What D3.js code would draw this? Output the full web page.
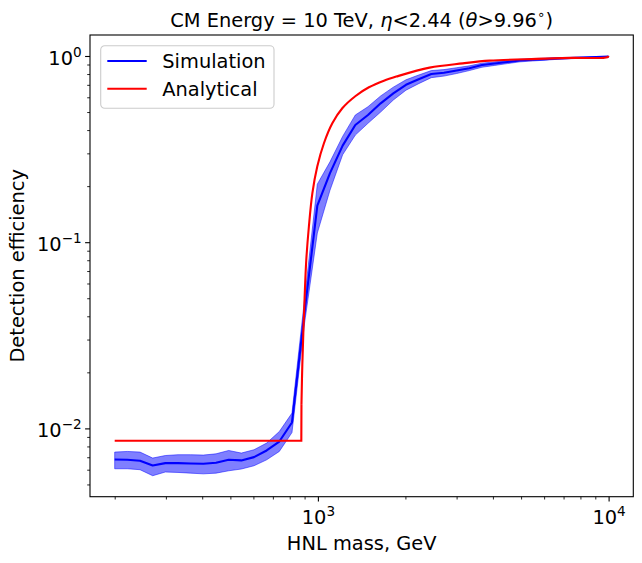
<!DOCTYPE html>
<html>
<head>
<meta charset="utf-8">
<script src="https://cdn.jsdelivr.net/npm/d3@7"></script>
<style>
  body { margin: 0; background: #fff; }
  text { font-family: "DejaVu Sans", sans-serif; fill: #000; }
</style>
</head>
<body>
<div id="chart"></div>
<script>
(function () {
  // simulated HNL masses (GeV) and efficiencies
  const massSim = [200, 221.1, 244.4, 270.2, 298.7, 330.2, 365.0, 403.6, 446.2, 493.3,
    545.3, 602.8, 666.4, 736.7, 814.4, 900.4, 995.5, 1100.5, 1216.6, 1345.0,
    1486.9, 1643.8, 1817.3, 2009.0, 2221.0, 2455.4, 2714.5, 3000.9, 3317.6, 3667.7,
    4054.7, 4482.6, 4955.6, 5478.6, 6056.8, 6696.0, 7402.6, 8183.7, 9047.1, 10000];
  const effSim = [0.00681, 0.00678, 0.0067, 0.00632, 0.00651, 0.00651, 0.00648, 0.00646, 0.00654, 0.00678,
    0.00673, 0.00701, 0.00761, 0.0085, 0.01076, 0.0425, 0.157, 0.235, 0.33, 0.426,
    0.482, 0.557, 0.63, 0.70, 0.75, 0.80, 0.812, 0.835, 0.86, 0.895,
    0.912, 0.928, 0.945, 0.955, 0.962, 0.97, 0.976, 0.981, 0.986, 0.992];
  const effSimLow = [0.00607, 0.00607, 0.006, 0.00557, 0.00583, 0.0058, 0.00575, 0.0057, 0.00575, 0.00592,
    0.00605, 0.0063, 0.00678, 0.00752, 0.0095, 0.037, 0.112, 0.19, 0.295, 0.376,
    0.435, 0.50, 0.58, 0.655, 0.71, 0.765, 0.78, 0.805, 0.835, 0.87,
    0.89, 0.91, 0.93, 0.94, 0.95, 0.96, 0.967, 0.973, 0.98, 0.988];
  const effSimHigh = [0.00746, 0.00752, 0.00746, 0.00693, 0.00715, 0.00722, 0.00722, 0.00719, 0.0073, 0.00761,
    0.00737, 0.00768, 0.00834, 0.00962, 0.01208, 0.05, 0.205, 0.27, 0.37, 0.482,
    0.534, 0.61, 0.68, 0.745, 0.79, 0.835, 0.845, 0.865, 0.885, 0.915,
    0.93, 0.945, 0.96, 0.968, 0.973, 0.98, 0.984, 0.988, 0.991, 0.995];

  // analytical curve (flat below the 877 GeV threshold, then rising)
  const massAna = [200, 877, 878, 884, 900, 912, 931, 957, 995, 1049, 1121, 1213, 1348,
    1498, 1687, 1860, 2422, 3152, 3894, 5636, 7500, 9900, 10000];
  const effAna = [0.00858, 0.00858, 0.0135, 0.022, 0.05, 0.08, 0.121, 0.183, 0.255, 0.34, 0.435, 0.524, 0.61,
    0.679, 0.737, 0.775, 0.866, 0.913, 0.944, 0.965, 0.977, 0.984, 1.0];

  const xMajor = [1000, 10000];
  const xMinor = [200, 300, 400, 500, 600, 700, 800, 900, 2000, 3000, 4000, 5000, 6000, 7000, 8000, 9000];
  const yMajor = [0.01, 0.1, 1];
  const yMinor = [0.005, 0.006, 0.007, 0.008, 0.009, 0.02, 0.03, 0.04, 0.05, 0.06, 0.07, 0.08, 0.09,
    0.2, 0.3, 0.4, 0.5, 0.6, 0.7, 0.8, 0.9];

  const W = 642, H = 563;
  const margin = { top: 35, right: 8.7, bottom: 66.3, left: 90 };
  const width = W - margin.left - margin.right;
  const height = H - margin.top - margin.bottom;
  const FS = 19.4;

  const svg = d3.select("#chart").append("svg")
    .attr("width", W).attr("height", H);
  const g = svg.append("g")
    .attr("transform", `translate(${margin.left}, ${margin.top})`);

  // log-space padding of 5% like matplotlib autoscale
  function padLog(lo, hi) {
    const a = Math.log10(lo), b = Math.log10(hi), p = 0.05 * (b - a);
    return [Math.pow(10, a - p), Math.pow(10, b + p)];
  }
  const xScale = d3.scaleLog()
    .domain(padLog(d3.min(massSim), d3.max(massSim)))
    .range([0, width]);
  const yScale = d3.scaleLog()
    .domain(padLog(d3.min(effSimLow), Math.max(d3.max(effSimHigh), d3.max(effAna))))
    .range([height, 0]);

  const simData = massSim.map((m, i) => ({ m, v: effSim[i], lo: effSimLow[i], hi: effSimHigh[i] }));
  const anaData = massAna.map((m, i) => ({ m, v: effAna[i] }));

  // band
  g.append("path")
    .datum(simData)
    .attr("d", d3.area()
      .x((d) => xScale(d.m))
      .y0((d) => yScale(d.lo))
      .y1((d) => yScale(d.hi)))
    .style("fill", "#0000ff")
    .style("fill-opacity", 0.5)
    .style("stroke", "#0000ff")
    .style("stroke-opacity", 0.5)
    .style("stroke-width", 1);

  g.append("path")
    .datum(simData)
    .attr("d", d3.line().x((d) => xScale(d.m)).y((d) => yScale(d.v)))
    .style("fill", "none")
    .style("stroke", "#0000ff")
    .style("stroke-width", 2.1)
    .style("stroke-linejoin", "round");

  // analytical: straight flat part + step, smooth rise after the threshold
  const anaFlat = anaData.slice(0, 3);
  const anaRise = anaData.slice(2);
  g.append("path")
    .datum(anaFlat)
    .attr("d", d3.line().x((d) => xScale(d.m)).y((d) => yScale(d.v)))
    .style("fill", "none")
    .style("stroke", "#ff0000")
    .style("stroke-width", 2.1);
  g.append("path")
    .datum(anaRise)
    .attr("d", d3.line()
      .x((d) => xScale(d.m))
      .y((d) => yScale(d.v))
      .curve(d3.curveCatmullRom.alpha(0.5)))
    .style("fill", "none")
    .style("stroke", "#ff0000")
    .style("stroke-width", 2.1);

  // axes
  function styleAxis(sel, w) {
    sel.select(".domain").remove();
    sel.selectAll(".tick line").style("stroke", "#000").style("stroke-width", w);
  }
  function supLabel(sel, base, exp) {
    sel.text(null);
    sel.append("tspan").text(base);
    sel.append("tspan").attr("dy", -8).style("font-size", "13.6px").text(exp);
  }
  const expText = (v) => String(Math.round(Math.log10(v))).replace("-", "\u2212");

  const xAxisMinor = g.append("g")
    .attr("transform", `translate(0, ${height})`)
    .call(d3.axisBottom(xScale).tickValues(xMinor).tickSize(2.8).tickFormat(""));
  styleAxis(xAxisMinor, 0.85);

  const xAxis = g.append("g")
    .attr("transform", `translate(0, ${height})`)
    .call(d3.axisBottom(xScale).tickValues(xMajor).tickSize(4.9).tickPadding(4.9).tickFormat(""));
  styleAxis(xAxis, 1.1);
  xAxis.selectAll(".tick text")
    .attr("y", 27.3)
    .attr("dy", null)
    .style("font-size", FS + "px")
    .each(function (d) { supLabel(d3.select(this), "10", expText(d)); });

  const yAxisMinor = g.append("g")
    .call(d3.axisLeft(yScale).tickValues(yMinor).tickSize(2.8).tickFormat(""));
  styleAxis(yAxisMinor, 0.85);

  const yAxis = g.append("g")
    .call(d3.axisLeft(yScale).tickValues(yMajor).tickSize(4.9).tickPadding(4.9).tickFormat(""));
  styleAxis(yAxis, 1.1);
  yAxis.selectAll(".tick text")
    .attr("x", -8.3)
    .attr("dy", "0.42em")
    .style("font-size", FS + "px")
    .style("text-anchor", "end")
    .each(function (d) { supLabel(d3.select(this), "10", expText(d)); });

  // frame
  g.append("rect")
    .attr("width", width).attr("height", height)
    .style("fill", "none").style("stroke", "#000").style("stroke-width", 1.1);

  // labels
  svg.append("text")
    .attr("x", margin.left + width / 2).attr("y", 550)
    .attr("text-anchor", "middle")
    .style("font-size", FS + "px")
    .text("HNL mass, GeV");

  svg.append("text")
    .attr("transform", `translate(24, ${margin.top + height / 2}) rotate(-90)`)
    .attr("text-anchor", "middle")
    .style("font-size", FS + "px")
    .text("Detection efficiency");

  const title = svg.append("text")
    .attr("x", margin.left + width / 2).attr("y", 27.3)
    .attr("text-anchor", "middle")
    .style("font-size", FS + "px");
  title.append("tspan").text("CM Energy = 10 TeV, ");
  title.append("tspan").style("font-style", "italic").text("\u03b7");
  title.append("tspan").text("<2.44 (");
  title.append("tspan").style("font-style", "italic").text("\u03b8");
  title.append("tspan").text(">9.96");
  title.append("tspan").attr("dy", -8).style("font-size", "13.6px").text("\u2218");
  title.append("tspan").attr("dy", 8).text(")");

  // legend
  const legend = svg.append("g").attr("transform", "translate(100.7, 45.7)");
  legend.append("rect")
    .attr("width", 173.3).attr("height", 62.6)
    .attr("rx", 4).attr("ry", 4)
    .style("fill", "#fff").style("fill-opacity", 0.8)
    .style("stroke", "#cccccc").style("stroke-width", 1.1);
  const legendItems = [
    { label: "Simulation", color: "#0000ff" },
    { label: "Analytical", color: "#ff0000" },
  ];
  legendItems.forEach((item, i) => {
    const yy = 15.3 + i * 27.7;
    legend.append("line")
      .attr("x1", 6.6).attr("x2", 46)
      .attr("y1", yy).attr("y2", yy)
      .style("stroke", item.color).style("stroke-width", 2.1);
    legend.append("text")
      .attr("x", 61.6).attr("y", yy + 7)
      .style("font-size", FS + "px")
      .text(item.label);
  });
})();
</script>
</body>
</html>
